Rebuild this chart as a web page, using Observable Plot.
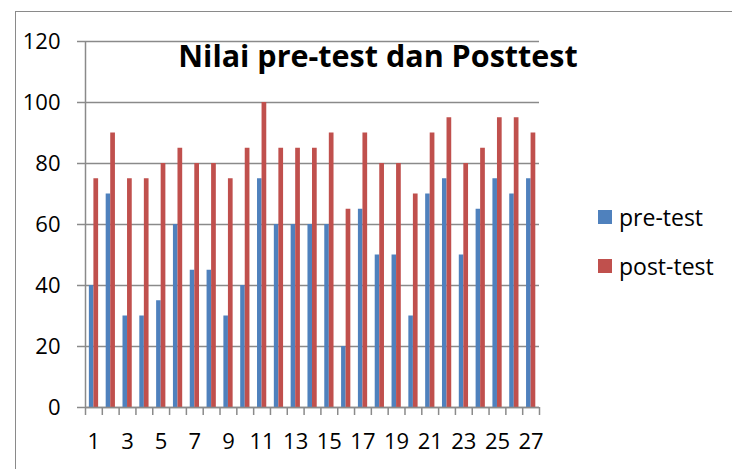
<!DOCTYPE html>
<html>
<head>
<meta charset="utf-8">
<script src="https://cdn.jsdelivr.net/npm/d3@7"></script>
<script src="https://cdn.jsdelivr.net/npm/@observablehq/plot@0.6"></script>
<style>
  html, body { margin: 0; padding: 0; background: #fff; }
  #wrap { position: relative; width: 732px; height: 469px; overflow: hidden; font-family: "Open Sans", sans-serif; }
  #border { position: absolute; left: 15px; top: 11px; right: -5px; bottom: -5px; border-left: 1px solid #8a8a8a; border-top: 1px solid #8a8a8a; }
  #title { position: absolute; left: 0; width: 756px; top: 34px; text-align: center; font-weight: bold; font-size: 30.5px; color: #000; white-space: nowrap; }
  .leg { position: absolute; left: 598px; font-size: 23px; color: #000; white-space: nowrap; line-height: 1; }
  .sw { display: inline-block; width: 14px; height: 14px; margin-right: 7px; vertical-align: 2px; }
</style>
</head>
<body>
<div id="wrap">
  <div id="border"></div>
  <div id="chart"></div>
  <div id="title">Nilai pre-test dan Posttest</div>
  <div class="leg" style="top:206px"><span class="sw" style="background:#4F81BD"></span>pre-test</div>
  <div class="leg" style="top:255px"><span class="sw" style="background:#C0504D"></span>post-test</div>
</div>
<script>
const categories = [1,2,3,4,5,6,7,8,9,10,11,12,13,14,15,16,17,18,19,20,21,22,23,24,25,26,27];
const preTest  = [40,70,30,30,35,60,45,45,30,40,75,60,60,60,60,20,65,50,50,30,70,75,50,65,75,70,75];
const postTest = [75,90,75,75,80,85,80,80,75,85,100,85,85,85,90,65,90,80,80,70,90,95,80,85,95,95,90];
const yTicks = [0,20,40,60,80,100,120];
const xLabels = [1,3,5,7,9,11,13,15,17,19,21,23,25,27];

const rows = categories.map((c, i) => ({cat: c, pre: preTest[i], post: postTest[i]}));
const boundaries = [0.5, ...categories.map(c => c + 0.5)];

const chart = Plot.plot({
  width: 732,
  height: 469,
  marginLeft: 85,
  marginRight: 193,
  marginTop: 41,
  marginBottom: 62,
  style: {fontFamily: "Open Sans, sans-serif", fontSize: "22px", color: "#000", background: "transparent"},
  x: {type: "linear", domain: [0.5, 27.5]},
  y: {domain: [0, 120]},
  marks: [
    Plot.gridY(yTicks, {stroke: "#8a8a8a", strokeOpacity: 1, strokeWidth: 1.5}),
    Plot.axisY({ticks: yTicks, tickSize: 8, tickPadding: 17, stroke: "#8a8a8a", strokeWidth: 1.5, fill: "#000", label: null, fontSize: 22}),
    Plot.rectY(rows, {x1: d => d.cat - 0.27, x2: d => d.cat, y: "pre", fill: "#4F81BD"}),
    Plot.rectY(rows, {x1: d => d.cat, x2: d => d.cat + 0.28, y: "post", fill: "#C0504D"}),
    Plot.ruleX([0.5], {stroke: "#8a8a8a", strokeWidth: 1.5}),
    Plot.ruleY([0], {stroke: "#8a8a8a", strokeWidth: 1.5}),
    Plot.axisX({ticks: boundaries, tickSize: 8, tickFormat: () => "", stroke: "#8a8a8a", strokeWidth: 1.5, label: null}),
    Plot.axisX({ticks: xLabels, tickSize: 0, tickPadding: 26, tickFormat: d => String(d), fill: "#000", label: null, fontSize: 22})
  ]
});
document.getElementById("chart").appendChild(chart);
</script>
</body>
</html>
